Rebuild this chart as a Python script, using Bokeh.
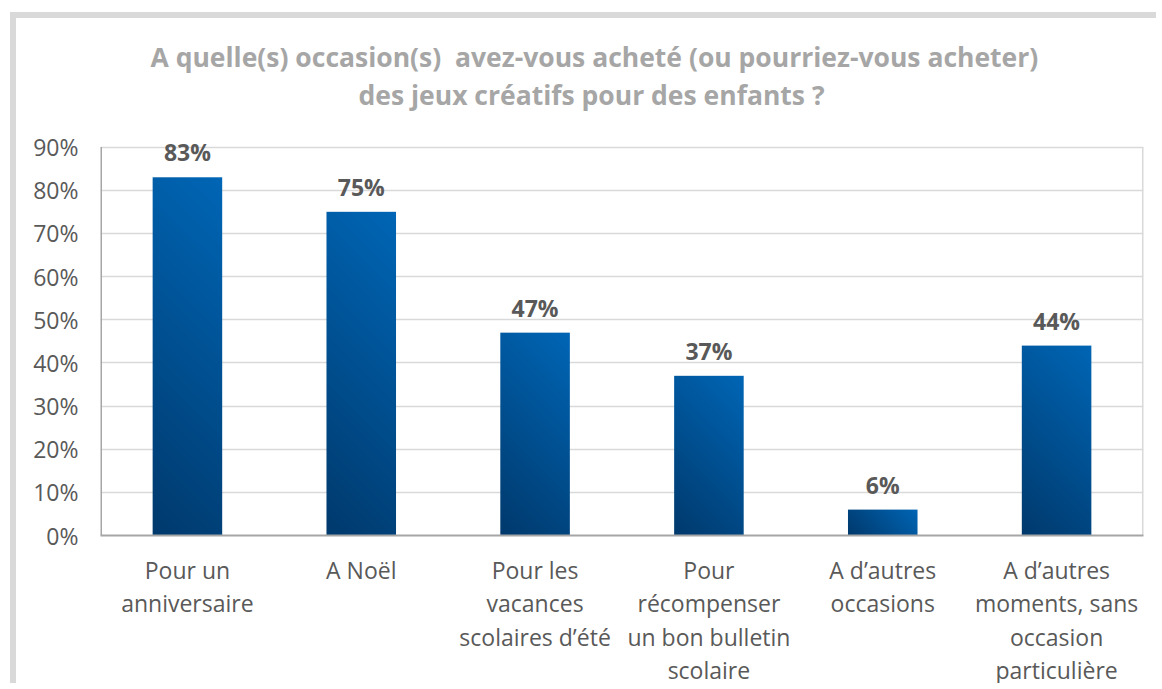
import numpy as np
from bokeh.plotting import figure
from bokeh.models import (ColumnDataSource, Range1d, FixedTicker, LabelSet, Title,
                          NumeralTickFormatter)
from bokeh.core.properties import value
from bokeh.embed import file_html
from bokeh.resources import INLINE

categories = ["Pour un\nanniversaire", "A Noël", "Pour les\nvacances\nscolaires d\u2019été",
              "Pour\nrécompenser\nun bon bulletin\nscolaire", "A d\u2019autres\noccasions",
              "A d\u2019autres\nmoments, sans\noccasion\nparticulière"]
values = [0.83, 0.75, 0.47, 0.37, 0.06, 0.44]
value_labels = ["83%", "75%", "47%", "37%", "6%", "44%"]
y_ticks = [0, 0.1, 0.2, 0.3, 0.4, 0.5, 0.6, 0.7, 0.8, 0.9]
title_lines = ["A quelle(s) occasion(s)\u00a0 avez-vous acheté (ou pourriez-vous acheter)",
               "des jeux créatifs pour des enfants ?"]

# figure content placed at page (16, 18) inside the grey frame borders
OX, OY = 16, 18
W, H = 1162 - OX, 689 - OY
FL, FR, FB = 100, 1143, 535       # plot area edges in page pixels
Y_MAX = 0.9                        # top of the visible value axis
Y_TOP = 0.95                       # range end (room for the top data label)
PX_PER_Y = 388 / Y_MAX
FT = int(round(FB - Y_TOP * PX_PER_Y))
FONT = "Open Sans"
TXT = "#595959"
BW = 0.40

p = figure(width=W, height=H, output_backend="svg", toolbar_location=None,
           x_range=Range1d(0, len(categories)), y_range=Range1d(0, Y_TOP),
           min_border_left=FL - OX, min_border_right=1162 - FR,
           min_border_top=FT - OY, min_border_bottom=689 - FB)
p.styles = {"border-top": "6px solid #d9d9d9", "border-left": "6px solid #d9d9d9",
            "margin-left": "10px", "margin-top": "12px"}
p.background_fill_color = "white"
p.border_fill_color = "white"
p.outline_line_color = None

p.xgrid.grid_line_color = None
p.ygrid.grid_line_color = "#d9d9d9"
p.ygrid.grid_line_width = 1.5

# right border of the plot area and left value axis line, up to 90%
n = len(categories)
p.segment(x0=[n], y0=[0], x1=[n], y1=[Y_MAX], line_color="#d9d9d9", line_width=3)
p.segment(x0=[0], y0=[0], x1=[0], y1=[Y_MAX], line_color="#a6a6a6", line_width=3)

# gradient bars: one RGBA image per bar (45 degree linear gradient, dark bottom-left)
top_c = np.array([0x00, 0x66, 0xb6], dtype=float)
bot_c = np.array([0x00, 0x39, 0x6c], dtype=float)
px_per_x = (FR - FL) / n
imgs, xs, dws, dhs = [], [], [], []
for i, v in enumerate(values):
    wpx = max(2, int(round(BW * px_per_x)))
    hpx = max(2, int(round(v * PX_PER_Y)))
    xx = np.arange(wpx)[None, :] + 0.5
    yy = np.arange(hpx)[:, None] + 0.5  # row 0 = bottom
    t = (xx + yy) / (wpx + hpx)
    rgb = bot_c[None, None, :] + (top_c - bot_c)[None, None, :] * t[:, :, None]
    rgba = np.empty((hpx, wpx), dtype=np.uint32)
    view = rgba.view(dtype=np.uint8).reshape((hpx, wpx, 4))
    view[:, :, 0:3] = np.round(rgb).astype(np.uint8)
    view[:, :, 3] = 255
    imgs.append(rgba)
    xs.append(i + 0.5 - BW / 2)
    dws.append(BW)
    dhs.append(v)
isrc = ColumnDataSource(dict(image=imgs, x=xs, y=[0] * len(values), dw=dws, dh=dhs))
p.image_rgba(image="image", x="x", y="y", dw="dw", dh="dh", source=isrc)

lsrc = ColumnDataSource(dict(x=[i + 0.5 for i in range(len(values))], y=values, text=value_labels))
p.add_layout(LabelSet(x="x", y="y", text="text", source=lsrc, y_offset=25,
                      text_align="center", text_baseline="middle",
                      text_font=value(FONT), text_font_style="bold", text_font_size="23px",
                      text_color=TXT))

# axes
p.yaxis.ticker = FixedTicker(ticks=y_ticks)
p.yaxis.formatter = NumeralTickFormatter(format="0%")
p.yaxis.major_tick_line_color = None
p.yaxis.minor_tick_line_color = None
p.yaxis.axis_line_color = None
p.yaxis.major_label_text_font = FONT
p.yaxis.major_label_text_font_size = "23px"
p.yaxis.major_label_text_color = TXT
p.yaxis.major_label_standoff = 16

p.xaxis.ticker = FixedTicker(ticks=[i + 0.5 for i in range(n)])
p.xaxis.major_label_overrides = {i + 0.5: c for i, c in enumerate(categories)}
p.xaxis.major_tick_line_color = None
p.xaxis.minor_tick_line_color = None
p.xaxis.axis_line_color = "#a6a6a6"
p.xaxis.axis_line_width = 2
p.xaxis.major_label_text_font = FONT
p.xaxis.major_label_text_font_size = "23px"
p.xaxis.major_label_text_color = TXT
p.xaxis.major_label_text_line_height = 1.05
p.xaxis.major_label_standoff = 12

# title: two stacked titles (the later one is further from the plot)
p.add_layout(Title(text=title_lines[1], align="left", offset=258, standoff=25,
                   text_font=FONT, text_font_style="bold",
                   text_font_size="26.5px", text_color="#a6a6a6"), "above")
p.add_layout(Title(text=title_lines[0], align="left", offset=50, standoff=-25,
                   text_font=FONT, text_font_style="bold",
                   text_font_size="26.5px", text_color="#a6a6a6"), "above")

open("out.html", "w").write(file_html(p, INLINE))
